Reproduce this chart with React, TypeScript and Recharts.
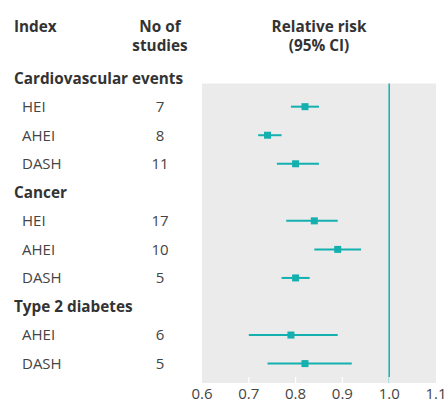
import React from 'react';
import {
  ScatterChart,
  Scatter,
  XAxis,
  YAxis,
  ErrorBar,
  ReferenceLine,
  ReferenceArea,
} from 'recharts';

const groups = ['Cardiovascular events', 'Cancer', 'Type 2 diabetes'];
const groupSizes = [3, 3, 2];
const indices = ['HEI', 'AHEI', 'DASH', 'HEI', 'AHEI', 'DASH', 'AHEI', 'DASH'];
const studies = [7, 8, 11, 17, 10, 5, 6, 5];
const rr = [0.82, 0.74, 0.8, 0.84, 0.89, 0.8, 0.79, 0.82];
const lower = [0.79, 0.72, 0.76, 0.78, 0.84, 0.77, 0.7, 0.74];
const upper = [0.85, 0.77, 0.85, 0.89, 0.94, 0.83, 0.89, 0.92];
const xTicks = [0.6, 0.7, 0.8, 0.9, 1.0, 1.1];

const TEAL = '#14b0b0';
const PANEL = '#ebebeb';
const FONT = '"Open Sans", sans-serif';

type Row = { pos: number; label: string; header: boolean; n?: number; rr?: number; err?: number[] };

const rows: Row[] = [];
{
  let pos = 0;
  let k = 0;
  groups.forEach((g, gi) => {
    rows.push({ pos, label: g, header: true });
    pos += 1;
    for (let j = 0; j < groupSizes[gi]; j++) {
      rows.push({
        pos,
        label: indices[k],
        header: false,
        n: studies[k],
        rr: rr[k],
        err: [+(rr[k] - lower[k]).toFixed(3), +(upper[k] - rr[k]).toFixed(3)],
      });
      pos += 1;
      k += 1;
    }
  });
}
const points = rows.filter((r) => !r.header);
const lastPos = rows[rows.length - 1].pos;
const panelTop = 0.19;
const panelBottom = lastPos + 0.68;

const XTick = (props: any) => {
  const { x, y, payload } = props;
  const v = payload.value as number;
  return (
    <g>
      {v > 0.6 && v < 1.1 ? <line x1={x} x2={x} y1={y - 6} y2={y} stroke="#ffffff" strokeWidth={1.2} /> : null}
      <text x={x} y={y + 16} textAnchor="middle" fill="#444" fontSize={15} fontFamily={FONT}>
        {v.toFixed(1)}
      </text>
    </g>
  );
};

const YTick = (props: any) => {
  const { y, payload } = props;
  const row = rows.find((r) => r.pos === payload.value);
  if (!row) return null;
  if (row.header) {
    return (
      <text x={14} y={y} dy="0.36em" fill="#333" fontSize={15.3} fontWeight={700} fontFamily={FONT}>
        {row.label}
      </text>
    );
  }
  return (
    <g>
      <text x={22} y={y} dy="0.36em" fill="#444" fontSize={15} fontFamily={FONT}>
        {row.label}
      </text>
      <text x={160} y={y} dy="0.36em" textAnchor="middle" fill="#444" fontSize={15} fontFamily={FONT}>
        {row.n}
      </text>
    </g>
  );
};

const Square = (props: any) => {
  const { cx, cy } = props;
  return <rect x={cx - 3.5} y={cy - 3.5} width={7} height={7} fill={TEAL} />;
};

export default function App() {
  return (
    <div style={{ position: 'absolute', left: 0, top: 0, width: 448, height: 403, background: '#fff' }}>
      <svg
        width={448}
        height={60}
        style={{ position: 'absolute', left: 0, top: 0, pointerEvents: 'none' }}
      >
        <g fontFamily={FONT} fontSize={15.3} fontWeight={700} fill="#333">
          <text x={14} y={32}>Index</text>
          <text x={160} y={32} textAnchor="middle">No of</text>
          <text x={160} y={51} textAnchor="middle">studies</text>
          <text x={319} y={32} textAnchor="middle">Relative risk</text>
          <text x={319} y={51} textAnchor="middle">(95% CI)</text>
        </g>
      </svg>
      <div style={{ position: 'absolute', left: 0, top: 0 }}>
        <ScatterChart width={448} height={403} margin={{ top: 61, right: 12, bottom: 0, left: 0 }}>
          <XAxis
            type="number"
            dataKey="rr"
            domain={[0.6, 1.1]}
            ticks={xTicks}
            height={20}
            axisLine={false}
            tickLine={false}
            tickSize={0}
            tickMargin={0}
            tick={<XTick />}
            interval={0}
            allowDataOverflow
          />
          <YAxis
            type="number"
            dataKey="pos"
            domain={[-0.6, panelBottom]}
            reversed
            width={202}
            ticks={rows.map((r) => r.pos)}
            interval={0}
            axisLine={false}
            tickLine={false}
            tickSize={0}
            tickMargin={0}
            tick={<YTick />}
            allowDataOverflow
          />
          <ReferenceArea x1={0.6} x2={1.1} y1={panelTop} y2={panelBottom} fill={PANEL} fillOpacity={1} stroke="none" />
          <ReferenceLine
            segment={[
              { x: 1.0, y: panelTop },
              { x: 1.0, y: panelBottom },
            ]}
            stroke={TEAL}
            strokeWidth={1.5}
          />
          <Scatter data={points} shape={<Square />} isAnimationActive={false}>
            <ErrorBar dataKey="err" direction="x" width={0} stroke={TEAL} strokeWidth={2} />
          </Scatter>
        </ScatterChart>
      </div>
    </div>
  );
}
